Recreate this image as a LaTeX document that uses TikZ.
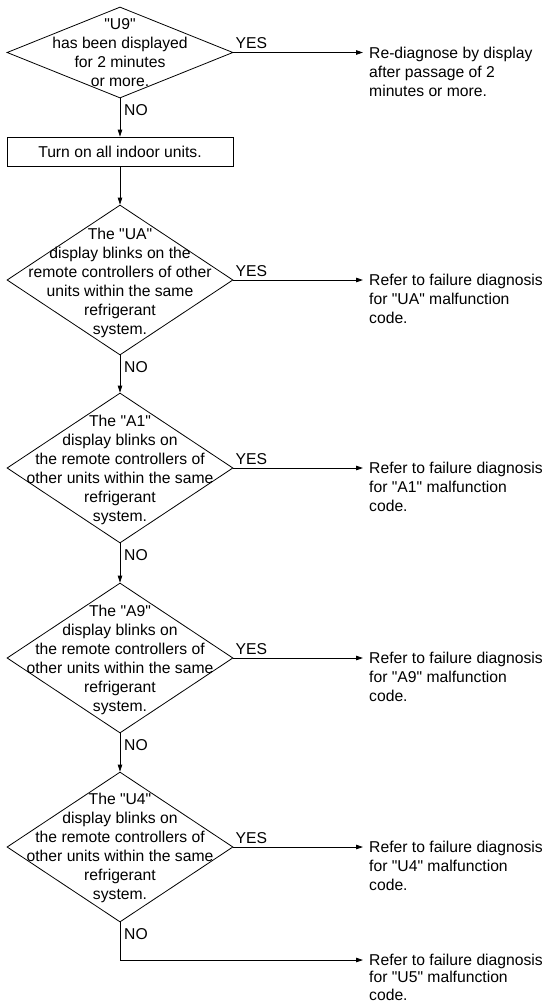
\documentclass[tikz,border=0pt]{standalone}
\usepackage{fontspec}
\setmainfont{Liberation Sans}
\usetikzlibrary{shapes.geometric,arrows.meta}
\newcommand\qq{\textquotedbl}
\begin{document}
\begin{tikzpicture}[x=1pt,y=-1pt,
  font=\fontsize{15.7}{19}\selectfont,
  dec/.style={draw, shape=diamond, minimum width=226pt, minimum height=150pt, inner sep=0pt, line width=0.8pt},
  dtext/.style={align=center, inner sep=0pt},
  proc/.style={draw, rectangle, minimum width=226pt, minimum height=29pt, inner sep=0pt, line width=0.8pt},
  arr/.style={-{Triangle[length=7pt,width=4.5pt]}, line width=0.8pt},
  res/.style={anchor=north west, align=left, inner sep=0pt},
  yeslbl/.style={anchor=base west, inner sep=0pt},
  nolbl/.style={anchor=north west, inner sep=0pt}]
\useasboundingbox (0,0) rectangle (548,1004);

% decision 1
\node[dec, minimum height=91pt] (d1) at (120,52.5) {};
\node[dtext] (t1) at (120,53) {\qq U9\qq\\has been displayed\\for 2 minutes\\or more.};
\coordinate (e1) at (363,52.5);
\node[res] (r1) at (369,46.5) {Re-diagnose by display\\after passage of 2\\minutes or more.};

\node[proc] (p1) at (120,151.5) {Turn on all indoor units.};

% decision 2
\node[dec] (d2) at (120,280) {};
\node[dtext] (t2) at (120,283) {The \qq UA\qq\\display blinks on the\\remote controllers of other\\units within the same\\refrigerant\\system.};
\coordinate (e2) at (363,280);
\node[res] (r2) at (369,274) {Refer to failure diagnosis\\for \qq UA\qq\ malfunction\\code.};

% decision 3
\node[dec] (d3) at (120,468) {};
\node[dtext] (t3) at (120,469.5) {The \qq A1\qq\\display blinks on\\the remote controllers of\\other units within the same\\refrigerant\\system.};
\coordinate (e3) at (363,468);
\node[res] (r3) at (369,462) {Refer to failure diagnosis\\for \qq A1\qq\ malfunction\\code.};

% decision 4
\node[dec] (d4) at (120,658) {};
\node[dtext] (t4) at (120,659.5) {The \qq A9\qq\\display blinks on\\the remote controllers of\\other units within the same\\refrigerant\\system.};
\coordinate (e4) at (363,658);
\node[res] (r4) at (369,652) {Refer to failure diagnosis\\for \qq A9\qq\ malfunction\\code.};

% decision 5
\node[dec] (d5) at (120,847) {};
\node[dtext] (t5) at (120,847.5) {The \qq U4\qq\\display blinks on\\the remote controllers of\\other units within the same\\refrigerant\\system.};
\coordinate (e5) at (363,847);
\node[res] (r5) at (369,841) {Refer to failure diagnosis\\for \qq U4\qq\ malfunction\\code.};

\coordinate (k6) at (120,960);
\coordinate (e6) at (363,960);
\node[res, font=\fontsize{15.7}{17.5}\selectfont] (r6) at (369,953.5) {Refer to failure diagnosis\\for \qq U5\qq\ malfunction\\code.};

% connectors
\draw[arr] (d1.east) -- (e1);
\draw[arr] (d1.south) -- (p1.north);
\draw[arr] (p1.south) -- (d2.north);
\draw[arr] (d2.east) -- (e2);
\draw[arr] (d2.south) -- (d3.north);
\draw[arr] (d3.east) -- (e3);
\draw[arr] (d3.south) -- (d4.north);
\draw[arr] (d4.east) -- (e4);
\draw[arr] (d4.south) -- (d5.north);
\draw[arr] (d5.east) -- (e5);
\draw[arr] (d5.south) -- (k6) -- (e6);

% labels
\node[yeslbl] (y1) at ([xshift=2pt,yshift=4pt]d1.east) {YES};
\node[yeslbl] (y2) at ([xshift=2pt,yshift=4pt]d2.east) {YES};
\node[yeslbl] (y3) at ([xshift=2pt,yshift=4pt]d3.east) {YES};
\node[yeslbl] (y4) at ([xshift=2pt,yshift=4pt]d4.east) {YES};
\node[yeslbl] (y5) at ([xshift=2pt,yshift=4pt]d5.east) {YES};
\node[nolbl] (n1) at ([xshift=4pt,yshift=-5.5pt]d1.south) {NO};
\node[nolbl] (n2) at ([xshift=4pt,yshift=-5.5pt]d2.south) {NO};
\node[nolbl] (n3) at ([xshift=4pt,yshift=-5.5pt]d3.south) {NO};
\node[nolbl] (n4) at ([xshift=4pt,yshift=-5.5pt]d4.south) {NO};
\node[nolbl] (n5) at ([xshift=4pt,yshift=-5.5pt]d5.south) {NO};
\end{tikzpicture}
\end{document}
